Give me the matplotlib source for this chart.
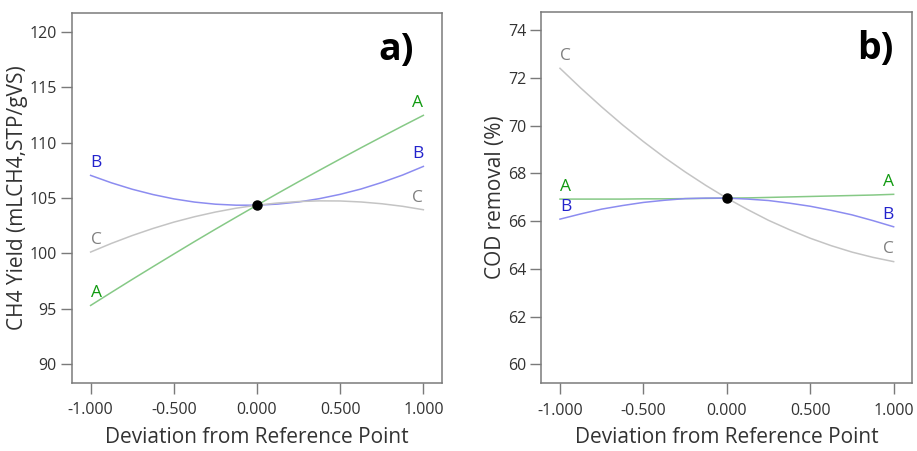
import numpy as np
import matplotlib
matplotlib.use("Agg")
import matplotlib.pyplot as plt

plt.rcParams['font.family'] = ['Open Sans', 'DejaVu Sans']

# deviation from reference point (coded units)
dev = [-1.0, -0.875, -0.75, -0.625, -0.5, -0.375, -0.25, -0.125, 0.0,
       0.125, 0.25, 0.375, 0.5, 0.625, 0.75, 0.875, 1.0]

# a) CH4 yield (mLCH4,STP/gVS)
ch4_A = [95.30, 96.48, 97.65, 98.80, 99.94, 101.07, 102.18, 103.27, 104.35,
         105.42, 106.47, 107.50, 108.52, 109.53, 110.52, 111.50, 112.46]
ch4_B = [107.04, 106.37, 105.79, 105.31, 104.92, 104.63, 104.44, 104.35, 104.35,
         104.45, 104.64, 104.94, 105.33, 105.81, 106.40, 107.07, 107.85]
ch4_C = [100.12, 100.90, 101.61, 102.25, 102.82, 103.31, 103.73, 104.08, 104.35,
         104.55, 104.68, 104.74, 104.73, 104.64, 104.48, 104.25, 103.94]
ch4_ref = 104.35

# b) COD removal (%)
cod_A = [66.92, 66.92, 66.92, 66.92, 66.93, 66.93, 66.94, 66.95, 66.96,
         66.97, 66.99, 67.01, 67.03, 67.05, 67.07, 67.09, 67.12]
cod_B = [66.08, 66.30, 66.50, 66.65, 66.78, 66.87, 66.94, 66.96, 66.96,
         66.92, 66.86, 66.75, 66.62, 66.45, 66.26, 66.02, 65.76]
cod_C = [72.40, 71.57, 70.78, 70.03, 69.33, 68.67, 68.06, 67.49, 66.96,
         66.48, 66.03, 65.64, 65.28, 64.97, 64.70, 64.48, 64.30]
cod_ref = 66.96

factor_names = ['A', 'B', 'C']
line_colors = ['#86c986', '#8c8cf0', '#c4c4c4']
label_colors = ['#119a11', '#2222cc', '#808080']
xticks = [-1.0, -0.5, 0.0, 0.5, 1.0]
xtick_labels = ['-1.000', '-0.500', '0.000', '0.500', '1.000']

spine_col = '#7a7a7a'
text_col = '#333333'

fig = plt.figure(figsize=(9.17, 4.51), dpi=100)
ax1 = fig.add_axes([0.0785, 0.1508, 0.4035, 0.8204])
ax2 = fig.add_axes([0.5903, 0.150, 0.4046, 0.824])


def draw_panel(ax, series, ref, ylim, yticks, ylabel, tag, tag_x):
    for vals, name, lc, tc in zip(series, factor_names, line_colors, label_colors):
        ax.plot(dev, vals, color=lc, lw=1.1, zorder=2)
        ax.annotate(name, (dev[0], vals[0]), xytext=(4, 3), textcoords='offset points',
                    ha='center', va='bottom', color=tc, fontsize=12.5)
        ax.annotate(name, (dev[-1], vals[-1]), xytext=(-4, 3), textcoords='offset points',
                    ha='center', va='bottom', color=tc, fontsize=12.5)
    ax.plot([0.0], [ref], 'o', color='black', ms=6.5, zorder=3)
    ax.set_xlim(-1.112, 1.112)
    ax.set_ylim(*ylim)
    ax.set_yticks(yticks)
    ax.set_xticks(xticks)
    ax.set_xticklabels(xtick_labels)
    ax.tick_params(direction='out', length=8, width=1, color=spine_col,
                   labelcolor=text_col, labelsize=11.5, pad=3)
    ax.tick_params(axis='x', pad=6)
    for sp in ax.spines.values():
        sp.set_color(spine_col)
        sp.set_linewidth(1.1)
    ax.set_xlabel('Deviation from Reference Point', fontsize=15, color=text_col, labelpad=6)
    ax.set_ylabel(ylabel, fontsize=15, color=text_col, labelpad=1)
    ax.text(tag_x, 0.9, tag, transform=ax.transAxes, ha='center', va='center',
            fontsize=27, fontweight='bold', color='black')


draw_panel(ax1, [ch4_A, ch4_B, ch4_C], ch4_ref, (88.3, 121.7),
           [90, 95, 100, 105, 110, 115, 120], 'CH4 Yield (mLCH4,STP/gVS)', 'a)', 0.876)
draw_panel(ax2, [cod_A, cod_B, cod_C], cod_ref, (59.2, 74.77),
           [60, 62, 64, 66, 68, 70, 72, 74], 'COD removal (%)', 'b)', 0.9)

fig.savefig('out.png', dpi=100)
